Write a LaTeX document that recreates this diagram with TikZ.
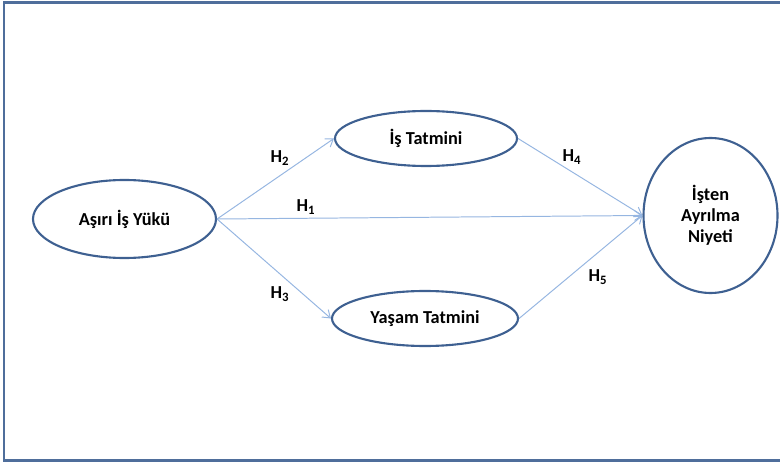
\documentclass[tikz,border=0pt]{standalone}
\usepackage{fontspec}
\setmainfont{Carlito}
\usetikzlibrary{arrows.meta}

\definecolor{framecol}{RGB}{79,110,155}
\definecolor{ringcol}{RGB}{62,96,145}
\definecolor{linkcol}{RGB}{150,182,225}

\tikzset{
    construct/.style={draw=ringcol, line width=1.5pt, ellipse, inner sep=0pt, align=center, font=\bfseries\fontsize{13}{15}\selectfont},
    link/.style={draw=linkcol, line width=0.7pt, -{Straight Barb[length=5pt,width=7pt]}},
    hyp/.style={font=\bfseries\fontsize{13}{15}\selectfont}
}
\usetikzlibrary{shapes.geometric}

\begin{document}
\begin{tikzpicture}[x=0.025cm, y=-0.025cm]

    \useasboundingbox (0,0) rectangle (780,465);

    % Outer frame (cut off on the right)
    \draw[framecol, line width=2pt] (780,2.5) -- (4,2.5) -- (4,460.5) -- (780,460.5);

    % Constructs
    \node[construct, minimum width=183*0.025cm, minimum height=78*0.025cm] (load) at (124.5,219) {Aşırı İş Yükü};
    \node[construct, minimum width=182*0.025cm, minimum height=55*0.025cm] (job) at (426,138.5) {İş Tatmini};
    \node[construct, minimum width=186*0.025cm, minimum height=55*0.025cm] (life) at (425,318.5) {Yaşam Tatmini};
    \node[construct, minimum width=134*0.025cm, minimum height=155*0.025cm] (quit) at (710.5,215.5) {İşten\\Ayrılma\\Niyeti};

    % Hypothesised paths
    \draw[link] (load.east) -- (job.west);
    \draw[link] (load.east) -- (life.west);
    \draw[link] (load.east) -- (quit.west);
    \draw[link] (job.east) -- (quit.west);
    \draw[link] (life.east) -- (quit.west);

    % Path labels
    \node[hyp] (h1) at (306,207) {H\textsubscript{1}};
    \node[hyp] (h2) at (280,158) {H\textsubscript{2}};
    \node[hyp] (h3) at (280,294) {H\textsubscript{3}};
    \node[hyp] (h4) at (572,157) {H\textsubscript{4}};
    \node[hyp] (h5) at (598,277) {H\textsubscript{5}};

\end{tikzpicture}
\end{document}
